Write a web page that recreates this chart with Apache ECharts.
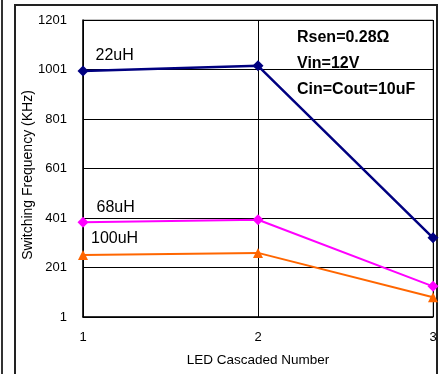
<!DOCTYPE html>
<html><head><meta charset="utf-8">
<script src="https://cdn.jsdelivr.net/npm/echarts@6/dist/echarts.min.js"></script>
<style>html,body{margin:0;padding:0;background:#fff}#c{width:441px;height:374px}</style>
</head><body><div id="c"></div>
<script>
const xValues = [1, 2, 3];
const seriesNames = ['22uH', '68uH', '100uH'];
const s22 = [995, 1016, 321];
const s68 = [384, 394, 125];
const s100 = [252, 260, 81];
const yTicks = [1, 201, 401, 601, 801, 1001, 1201];
const noteLines = ['Rsen=0.28Ω', 'Vin=12V', 'Cin=Cout=10uF'];
const yTitle = 'Switching Frequency (KHz)';
const xTitle = 'LED Cascaded Number';

const F = 'Arial, "Liberation Sans", sans-serif';
function mk(name, vals, color, symbol, size, width, off) {
  return {
    name, type: 'line', symbol, symbolSize: size,
    lineStyle: {color, width}, itemStyle: {color},
    data: vals.map((v, i) => ({
      value: [xValues[i], v],
      label: i === 0 ? {show: true, position: 'right', offset: off, formatter: name,
        color: '#000', fontFamily: F, fontSize: 16} : {show: false}
    })),
    z: 3
  };
}
const chart = echarts.init(document.getElementById('c'));
chart.setOption({
  animation: false,
  grid: {left: 83, right: 8, top: 20, bottom: 57, show: true, borderColor: '#888', borderWidth: 1},
  xAxis: {
    type: 'value', min: 1, max: 3, interval: 1,
    name: xTitle, nameLocation: 'middle', nameGap: 36,
    nameTextStyle: {fontFamily: F, fontSize: 13.5, color: '#000'},
    axisLine: {lineStyle: {color: '#000', width: 1.5}},
    axisTick: {show: false},
    axisLabel: {fontFamily: F, fontSize: 13, color: '#000', margin: 14},
    splitLine: {show: true, lineStyle: {color: '#000', width: 1}}
  },
  yAxis: {
    type: 'value', min: 1, max: 1201, interval: 200,
    axisLine: {show: true, lineStyle: {color: '#000', width: 1.5}},
    axisTick: {show: false},
    axisLabel: {fontFamily: F, fontSize: 13, color: '#000', margin: 16,
      formatter: v => yTicks.includes(v) ? String(v) : ''},
    splitLine: {show: true, lineStyle: {color: '#000', width: 1}}
  },
  graphic: [
    {type: 'rect', shape: {x: 15, y: 5, width: 422, height: 372}, style: {fill: 'none', stroke: '#222', lineWidth: 2}, silent: true},
    {type: 'line', shape: {x1: 2, y1: 0, x2: 2, y2: 374}, style: {stroke: '#333', lineWidth: 2}, silent: true},
    {type: 'text', x: 28, y: 175, rotation: Math.PI / 2, z: 10,
      style: {text: yTitle, fontFamily: F, fontSize: 14, fill: '#000', textAlign: 'center', textVerticalAlign: 'middle'}},
    {type: 'rect', shape: {x: 293, y: 23, width: 136, height: 42}, style: {fill: '#fff'}, z: 2},
    {type: 'text', left: 297, top: 25, z: 10, style: {text: noteLines.join('\n'), fontFamily: F, fontSize: 16, fontWeight: 'bold', fill: '#000', lineHeight: 26}}
  ],
  series: [
    mk(seriesNames[0], s22, '#000080', 'diamond', 11, 2.5, [2, -15]),
    mk(seriesNames[1], s68, '#FF00FF', 'diamond', 11, 2, [3, -15]),
    mk(seriesNames[2], s100, '#FF6600', 'triangle', 10, 2, [-2, -16])
  ]
});
</script></body></html>
